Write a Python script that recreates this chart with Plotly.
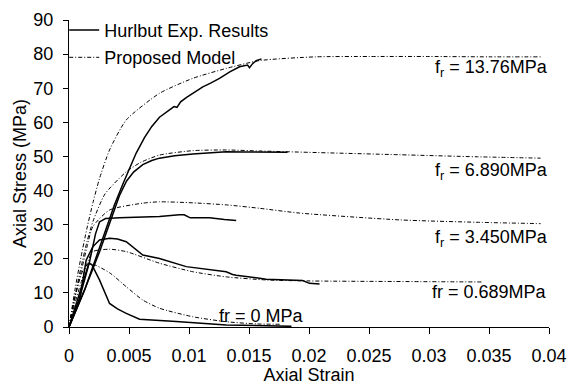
import plotly.graph_objects as go

# ---------------- data ----------------
# Experimental results (Hurlbut)
exp_1376_x = [0, 0.00129, 0.00254, 0.00379, 0.0045, 0.00504, 0.0056, 0.00629, 0.0069, 0.00754,
              0.0082, 0.00875, 0.009, 0.0093, 0.0098, 0.01032, 0.01115, 0.0118, 0.01254, 0.0134,
              0.01421, 0.01488, 0.01504, 0.0153, 0.0156, 0.01604]
exp_1376_y = [0, 10.8, 23.2, 35.8, 42.0, 46.5, 51.0, 55.5, 58.8, 61.5,
              63.3, 64.6, 64.4, 66.0, 67.3, 68.5, 70.4, 71.5, 72.9, 74.8,
              76.3, 76.8, 76.0, 77.2, 78.1, 78.6]

exp_689_x = [0, 0.00129, 0.00254, 0.00354, 0.0042, 0.0048, 0.0054, 0.00615, 0.0069, 0.00754,
             0.0088, 0.01032, 0.0118, 0.0131, 0.0145, 0.01588, 0.01821]
exp_689_y = [0, 10.8, 22.0, 32.0, 38.5, 42.8, 45.5, 47.6, 48.8, 49.5,
             50.2, 50.7, 51.1, 51.4, 51.3, 51.2, 51.2]

exp_345_x = [0, 0.00088, 0.00171, 0.00221, 0.00254, 0.00304, 0.00421, 0.00754, 0.0092, 0.0096,
             0.0101, 0.01171, 0.01296, 0.01393]
exp_345_y = [0, 8.5, 19.1, 27.3, 30.8, 31.8, 32.0, 32.4, 32.9, 32.9,
             32.0, 32.0, 31.5, 31.2]

exp_0689_x = [0, 0.00088, 0.00143, 0.00198, 0.00254, 0.00338, 0.00404, 0.00477, 0.00615, 0.00754,
              0.00977, 0.01088, 0.01171, 0.0131, 0.01363, 0.01393, 0.01588, 0.01643, 0.01946, 0.02004, 0.02088]
exp_0689_y = [0, 7.9, 19.6, 23.5, 25.5, 26.0, 25.8, 25.0, 21.1, 20.1,
              17.7, 17.2, 16.7, 16.2, 15.4, 15.2, 14.3, 14.0, 13.6, 12.8, 12.6]

exp_0_x = [0, 0.00088, 0.00165, 0.0019, 0.00254, 0.00338, 0.00404, 0.00477, 0.00588, 0.00893, 0.0131, 0.01854]
exp_0_y = [0, 10.3, 18.6, 18.3, 13.8, 6.9, 5.3, 4.0, 2.3, 1.6, 0.6, 0.2]

# Proposed model
mod_1376_x = [0, 0.0005, 0.001, 0.0015, 0.002, 0.00254, 0.00338, 0.00477, 0.00754, 0.01032, 0.0131,
              0.01588, 0.02054, 0.025, 0.03, 0.035, 0.0393]
mod_1376_y = [0, 11, 20.5, 29, 36.5, 43.5, 51.9, 60.7, 68.5, 72.9, 75.8,
              78.1, 79.2, 79.3, 79.3, 79.2, 79.2]

mod_689_x = [0, 0.0005, 0.001, 0.0015, 0.002, 0.003, 0.00477, 0.006, 0.00754, 0.01032, 0.0131,
             0.01588, 0.02, 0.02754, 0.034, 0.0393]
mod_689_y = [0, 9, 17.5, 25, 31, 39, 45.5, 48.3, 50.4, 51.7, 51.9,
             51.6, 51.2, 50.5, 49.9, 49.5]

mod_345_x = [0, 0.0005, 0.001, 0.0015, 0.00198, 0.00338, 0.00615, 0.00754, 0.01032, 0.0131, 0.01588,
             0.0192, 0.02754, 0.034, 0.0393]
mod_345_y = [0, 8.5, 16, 23.5, 29.4, 34.3, 36.3, 36.7, 36.4, 35.8, 34.8,
             33.4, 31.4, 30.7, 30.3]

mod_0689_x = [0, 0.0005, 0.001, 0.0015, 0.00198, 0.00338, 0.00477, 0.00754, 0.01032, 0.0131,
              0.01643, 0.02, 0.02921, 0.0344]
mod_0689_y = [0, 7, 13, 18.5, 22.1, 22.8, 22.1, 18.7, 16.2, 14.7,
              13.8, 13.5, 13.3, 13.2]

mod_0_x = [0, 0.0004, 0.0008, 0.0012, 0.00171, 0.00338, 0.00477, 0.00615, 0.00754, 0.01032,
           0.0131, 0.0156, 0.01768]
mod_0_y = [0, 7.5, 13, 16.8, 18.7, 15.9, 11.8, 7.9, 5.5, 3.0,
           1.55, 0.9, 0.8]

label_text = ["f<sub>r</sub> = 13.76MPa", "f<sub>r</sub> = 6.890MPa", "f<sub>r</sub> = 3.450MPa",
              "fr = 0.689MPa", "fr = 0 MPa"]
label_x = [0.0352, 0.0352, 0.0352, 0.0350, 0.0160]
label_y = [75.9, 45.5, 25.8, 10.3, 3.1]

x_ticks = [0, 0.005, 0.01, 0.015, 0.02, 0.025, 0.03, 0.035, 0.04]
x_tick_text = ["0", "0.005", "0.01", "0.015", "0.02", "0.025", "0.03", "0.035", "0.04"]
y_ticks = [0, 10, 20, 30, 40, 50, 60, 70, 80, 90]

# ---------------- figure ----------------
FONT = "Arial, 'Liberation Sans', sans-serif"
fig = go.Figure()

exp_series = [(exp_1376_x, exp_1376_y), (exp_689_x, exp_689_y), (exp_345_x, exp_345_y),
              (exp_0689_x, exp_0689_y), (exp_0_x, exp_0_y)]
mod_series = [(mod_1376_x, mod_1376_y), (mod_689_x, mod_689_y), (mod_345_x, mod_345_y),
              (mod_0689_x, mod_0689_y), (mod_0_x, mod_0_y)]

for i, (xs, ys) in enumerate(exp_series):
    fig.add_trace(go.Scatter(x=xs, y=ys, mode="lines", name="Hurlbut Exp. Results",
                             line=dict(color="black", width=1.5),
                             showlegend=(i == 0), legendgroup="exp"))
for i, (xs, ys) in enumerate(mod_series):
    fig.add_trace(go.Scatter(x=xs, y=ys, mode="lines", name="Proposed Model",
                             line=dict(color="black", width=1, dash="4px,2px,1px,2px",
                                       shape="spline", smoothing=0.6),
                             showlegend=(i == 0), legendgroup="mod"))

for t, lx, ly in zip(label_text, label_x, label_y):
    fig.add_annotation(x=lx, y=ly, text=t, showarrow=False, xref="x", yref="y",
                       font=dict(family=FONT, size=18, color="black"),
                       xanchor="center", yanchor="middle")

fig.update_layout(
    width=575, height=385,
    margin=dict(l=69, r=26, t=20, b=58, autoexpand=False),
    paper_bgcolor="white", plot_bgcolor="white",
    font=dict(family=FONT, size=18, color="black"),
    showlegend=True,
    legend=dict(x=-0.01, y=1.027, xanchor="left", yanchor="top",
                bgcolor="rgba(0,0,0,0)", borderwidth=0,
                font=dict(family=FONT, size=18, color="black"),
                tracegroupgap=1, itemwidth=30),
)
fig.update_xaxes(range=[0, 0.04], tickvals=x_ticks, ticktext=x_tick_text,
                 showline=True, linecolor="black", linewidth=1, automargin=False,
                 ticks="outside", ticklen=6, tickcolor="black", tickwidth=1,
                 showgrid=False, zeroline=False, ticklabelstandoff=6,
                 title=dict(text="Axial Strain", font=dict(family=FONT, size=18), standoff=6))
fig.update_yaxes(range=[0, 90], tickvals=y_ticks, automargin=False,
                 showline=True, linecolor="black", linewidth=1,
                 ticks="outside", ticklen=5, tickcolor="black", tickwidth=1,
                 showgrid=False, zeroline=False, ticklabelstandoff=6,
                 title=dict(text="Axial Stress (MPa)", font=dict(family=FONT, size=18), standoff=2))

fig.write_html("out.html")
